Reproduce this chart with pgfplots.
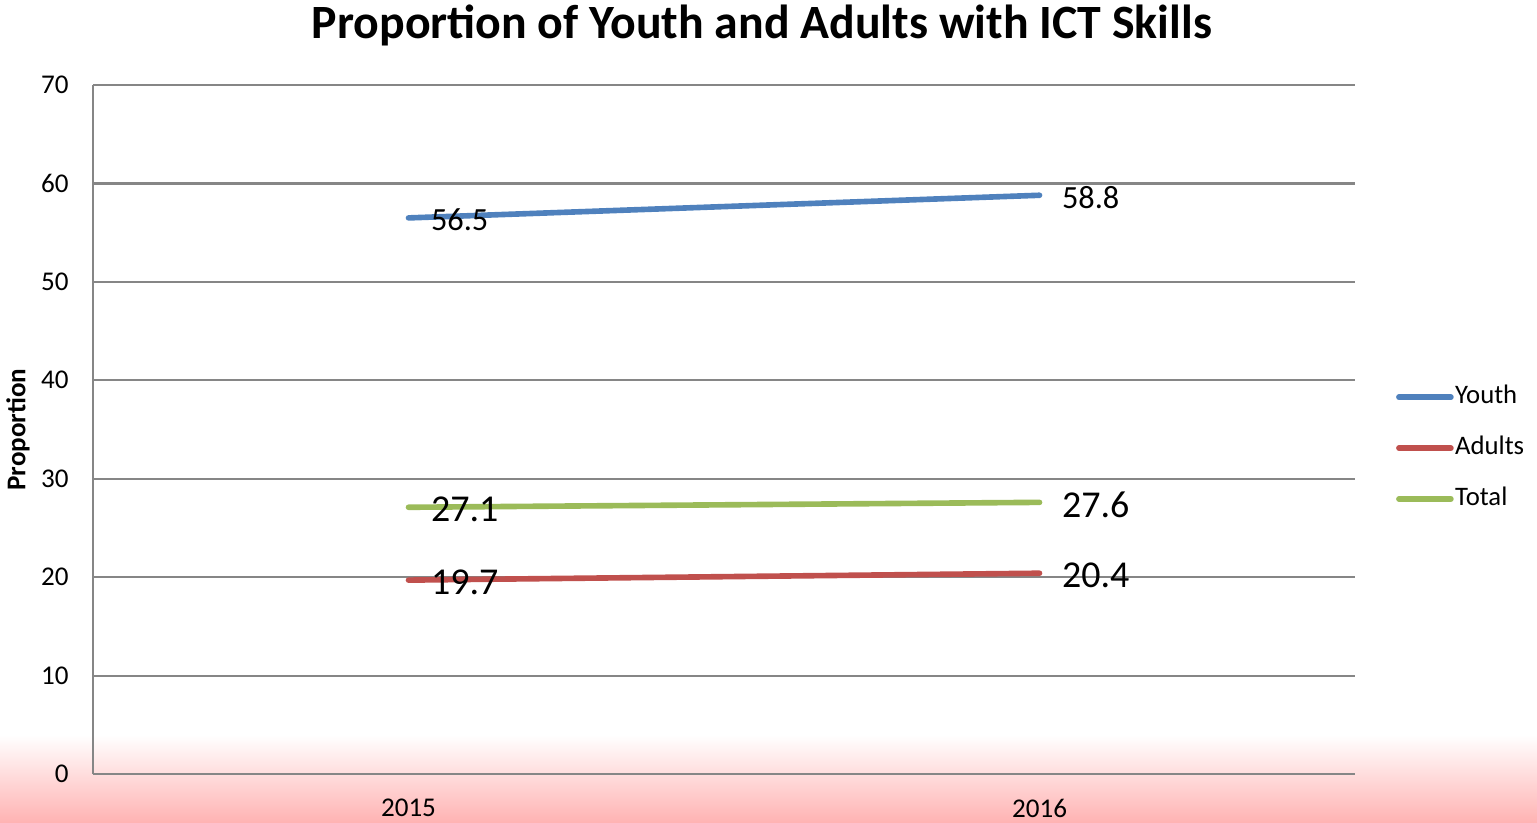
\documentclass[border=0pt]{standalone}
\usepackage{pgfplots}
\pgfplotsset{compat=1.18}
\usepackage{fontspec}
\setmainfont{Carlito}

\definecolor{youth}{HTML}{4F81BD}
\definecolor{adults}{HTML}{C0504D}
\definecolor{total}{HTML}{9BBB59}
\definecolor{gridgray}{HTML}{868686}
\definecolor{pinkband}{HTML}{FFB3B3}

\begin{document}
\begin{tikzpicture}
% pink band at the bottom
\shade[top color=white, bottom color=pinkband] (0,0) rectangle (15.37cm,0.87cm);
\begin{axis}[
    scale only axis,
    width=12.62cm, height=6.89cm,
    at={(0.93cm,0.48cm)}, anchor=south west,
    xmin=-0.5, xmax=1.5,
    ymin=0, ymax=70,
    xtick={0,1}, xticklabels={2015,2016},
    ytick={0,10,...,70},
    axis x line=bottom, axis y line=left,
    axis line style={gridgray, line width=0.6pt, -},
    major tick length=0pt,
    ymajorgrids=true,
    grid style={gridgray, line width=0.6pt},
    /pgf/number format/assume math mode=true,
    tick label style={font=\fontsize{7.7}{9}\selectfont},
    yticklabel style={xshift=-1.2mm},
    xticklabel style={yshift=-1.3mm},
    title={Proportion of Youth and Adults with ICT Skills},
    every axis title shift=0pt,
    title style={font=\bfseries\fontsize{13.6}{16}\selectfont, at={(axis description cs:0.530,1.087)}, anchor=center},
    ylabel={Proportion},
    every axis y label/.style={at={(axis description cs:-0.0594,0.5)}, rotate=90, anchor=center, font=\bfseries\fontsize{7.7}{9}\selectfont},
    legend style={at={(1.032,0.473)}, anchor=west, draw=none, fill=none,
        font=\fontsize{7.6}{9}\selectfont, row sep=1.3mm, inner sep=0pt,
        nodes={inner xsep=0.4pt}},
    legend cell align=left,
    legend image code/.code={\draw[#1, line cap=round] (0,0) -- (5.2mm,0);},
    every axis plot/.append style={line width=1.6pt, line cap=round, mark=none},
    nodes near coords,
    every node near coord/.append style={anchor=west, xshift=0.8mm, yshift=-0.2mm, text=black},
    clip=false,
]
\addplot[youth, every node near coord/.append style={font=\fontsize{9.2}{11}\selectfont}]
    coordinates {(0,56.5)(1,58.8)};
\addlegendentry{Youth}
\addplot[adults, every node near coord/.append style={font=\fontsize{10.8}{13}\selectfont}]
    coordinates {(0,19.7)(1,20.4)};
\addlegendentry{Adults}
\addplot[total, every node near coord/.append style={font=\fontsize{10.8}{13}\selectfont}]
    coordinates {(0,27.1)(1,27.6)};
\addlegendentry{Total}
\end{axis}
\pgfresetboundingbox
\useasboundingbox (0,0) rectangle (15.37cm,8.22cm);
\end{tikzpicture}
\end{document}
